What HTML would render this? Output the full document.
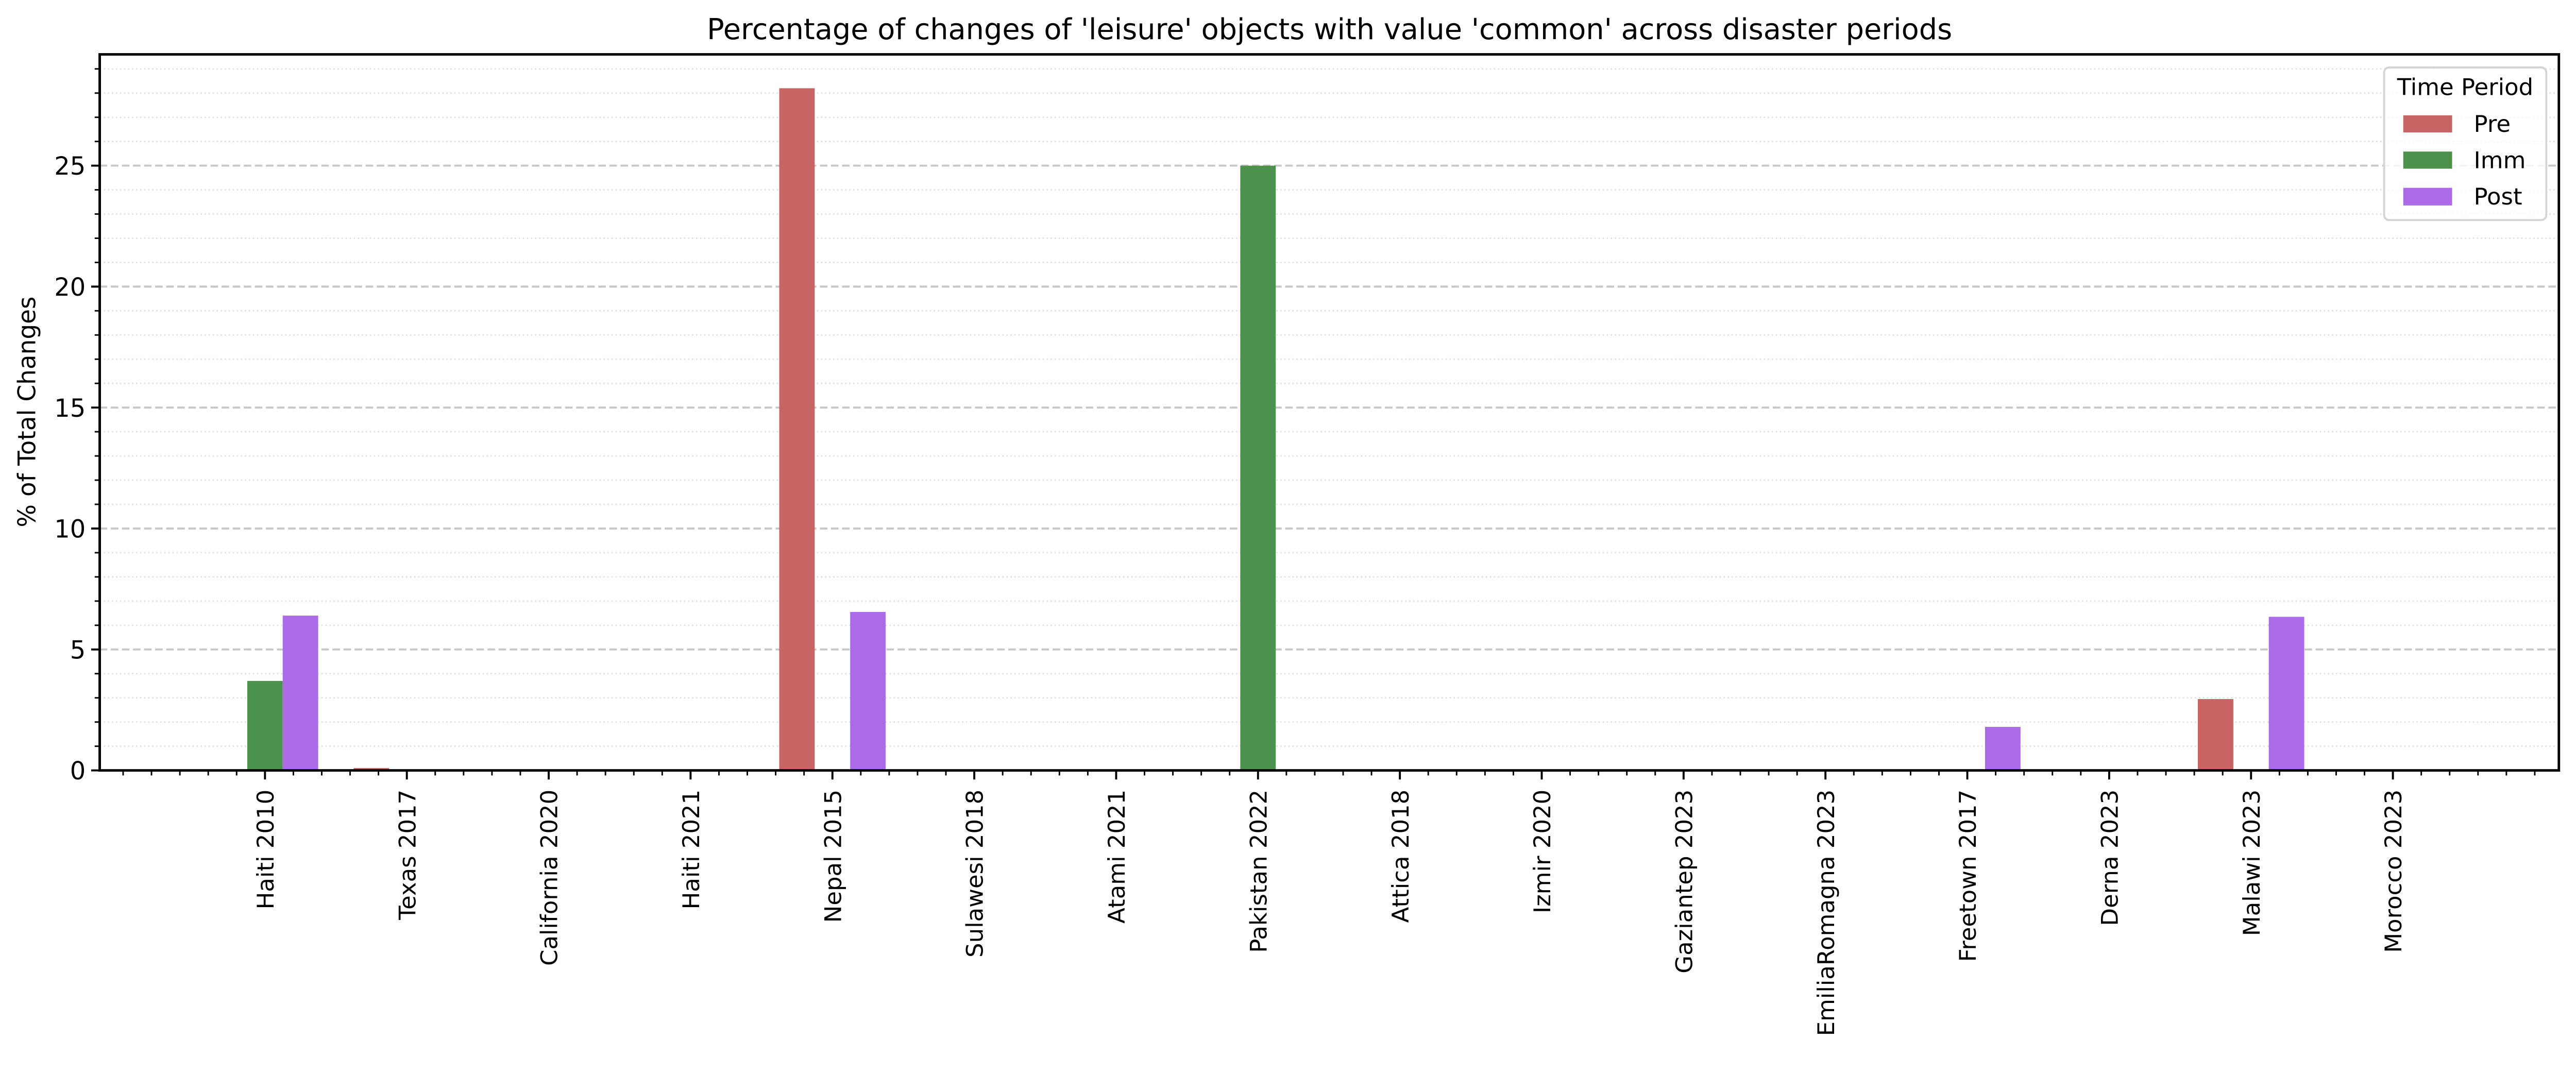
<!DOCTYPE html>
<html><head><meta charset="utf-8"><style>
html,body{margin:0;padding:0;background:#fff;overflow:hidden}
svg{display:block;width:100vw;height:41.3685vw;font-family:"DejaVu Sans","Liberation Sans",sans-serif}
</style></head><body>
<svg id="chart" viewBox="0 0 5115 2116" preserveAspectRatio="none" xmlns="http://www.w3.org/2000/svg">
<rect width="5115" height="2116" fill="#fff"/>
<text x="2640" y="78" font-size="57" text-anchor="middle">Percentage of changes of 'leisure' objects with value 'common' across disaster periods</text>
<text transform="translate(70,818) rotate(-90)" font-size="48" text-anchor="middle">% of Total Changes</text>
<g id="grid"></g><g id="bars"></g><g id="axes"></g>
<g>
<rect x="4734" y="134" width="322" height="303" rx="10" fill="#fff" fill-opacity="0.8" stroke="#d5d5d5" stroke-width="4"/>
<text x="4895" y="189" font-size="46" text-anchor="middle">Time Period</text>
<rect x="4772" y="229" width="97" height="34" fill="#c76464"/>
<text x="4912" y="262" font-size="46">Pre</text>
<rect x="4772" y="301" width="97" height="34" fill="#4c914c"/>
<text x="4912" y="334" font-size="46">Imm</text>
<rect x="4772" y="373" width="97" height="35" fill="#ab6be8"/>
<text x="4912" y="406" font-size="46">Post</text>
</g>
</svg>
<script>
const categories = ["Haiti 2010","Texas 2017","California 2020","Haiti 2021","Nepal 2015","Sulawesi 2018","Atami 2021","Pakistan 2022","Attica 2018","Izmir 2020","Gaziantep 2023","EmiliaRomagna 2023","Freetown 2017","Derna 2023","Malawi 2023","Morocco 2023"];
const preValues  = [0,0.1,0,0,28.2,0,0,0,0,0,0,0,0,0,2.95,0];
const immValues  = [3.7,0,0,0,0,0,0,25,0,0,0,0,0,0,0,0];
const postValues = [6.4,0,0,0,6.55,0,0,0,0,0,0,0,1.8,0,6.35,0];
const yTicks = [0,5,10,15,20,25];
const seriesNames = ["pre","imm","post"];

const NS="http://www.w3.org/2000/svg";
const L=198,R=5081,T=108,B=1530;
const xMin=-1.165,xMax=16.17,yMin=0,yMax=29.6;
const xS=v=>L+(v-xMin)/(xMax-xMin)*(R-L);
const yS=v=>B-(v-yMin)/(yMax-yMin)*(B-T);
function mk(tag,attrs,parent){const e=document.createElementNS(NS,tag);for(const k in attrs)e.setAttribute(k,attrs[k]);parent.appendChild(e);return e;}
const grid=document.getElementById('grid'),bars=document.getElementById('bars'),axes=document.getElementById('axes');
for(let v=1;v<yMax;v++){
  if(v%5===0)continue;
  const g=mk('line',{x1:L,x2:R,y1:yS(v),y2:yS(v),stroke:'#e2e2e2','stroke-width':3,'stroke-dasharray':'3 5'},grid);
  
  
  mk('line',{x1:L-10,x2:L,y1:yS(v),y2:yS(v),stroke:'#000','stroke-width':3},axes);
}
yTicks.forEach(v=>{
  if(v>0){const g=mk('line',{x1:L,x2:R,y1:yS(v),y2:yS(v),stroke:'#c8c8c8','stroke-width':4,'stroke-dasharray':'15 7'},grid);
  
  }
  mk('line',{x1:L-17,x2:L,y1:yS(v),y2:yS(v),stroke:'#000','stroke-width':4},axes);
  const t=mk('text',{x:L-28,y:yS(v)+18,'font-size':49,'text-anchor':'end'},axes);
  
  
  t.textContent=v;
});
const colors=["#c76464","#4c914c","#ab6be8"];
const series=[preValues,immValues,postValues];
const bw=0.25;
series.forEach((vals,s)=>{
  vals.forEach((v,i)=>{
    const x0=xS(i+(s-1)*bw-bw/2),x1=xS(i+(s-1)*bw+bw/2);
    const r=mk('rect',{x:x0,y:yS(v),width:x1-x0,height:yS(0)-yS(v),fill:colors[s]},bars);
    
    
  });
});
for(let v=Math.ceil(xMin*5)/5;v<=xMax;v+=0.2){
  const vv=Math.round(v*5)/5;
  if(Math.abs(vv-Math.round(vv))<1e-6 && vv>=0 && vv<categories.length)continue;
  mk('line',{x1:xS(vv),x2:xS(vv),y1:B,y2:B+10,stroke:'#000','stroke-width':3},axes);
}
categories.forEach((c,i)=>{
  mk('line',{x1:xS(i),x2:xS(i),y1:B,y2:B+18,stroke:'#000','stroke-width':4},axes);
  const t=mk('text',{transform:`translate(${xS(i)+17},${B+38}) rotate(-90)`,'font-size':46,'text-anchor':'end'},axes);
  
  
  t.textContent=c;
});
const frame=mk('rect',{x:L,y:T,width:R-L,height:B-T,fill:'none',stroke:'#000','stroke-width':5},axes);


</script>
</body></html>
